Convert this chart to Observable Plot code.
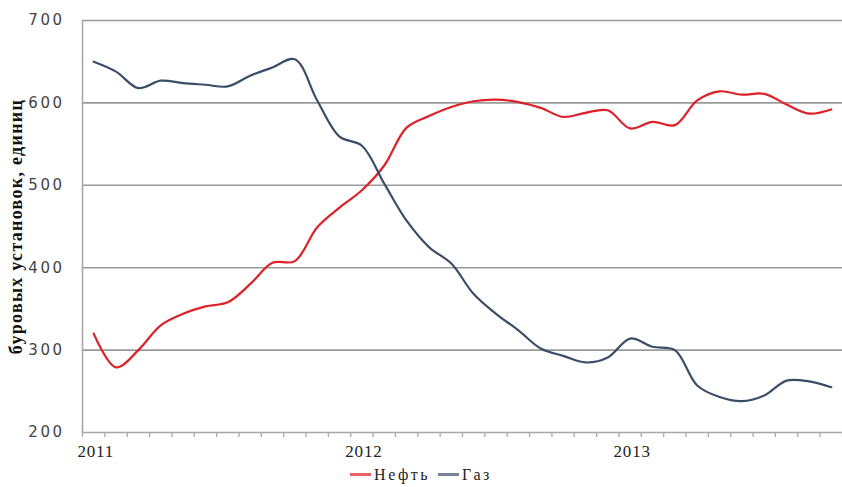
<!DOCTYPE html>
<html>
<head>
<meta charset="utf-8">
<script src="https://cdn.jsdelivr.net/npm/d3@7"></script>
<script src="https://cdn.jsdelivr.net/npm/@observablehq/plot@0.6"></script>
<style>
  html, body { margin: 0; padding: 0; background: #fff; }
  #chart { width: 842px; }
  #chart g[aria-label="x-axis tick label"] {
    font-family: "Liberation Serif", "Times New Roman", serif; font-size: 17px; letter-spacing: 0.8px;
  }
  #chart g[aria-label="y-axis tick label"] {
    font-family: "DejaVu Sans", Verdana, sans-serif; font-size: 15px; letter-spacing: 2.5px;
  }
  #chart g.ytitle text {
    font-family: "Liberation Serif", "Times New Roman", serif; font-size: 18px;
    font-weight: bold; letter-spacing: 1.3px;
  }
  .legend {
    width: 842px; height: 25px; display: flex; justify-content: center; align-items: center;
    font-family: "Liberation Serif", "Times New Roman", serif; font-size: 16px; color: #222;
    letter-spacing: 2.5px;
  }
  .legend .item { display: flex; align-items: center; margin: 0 4px; }
  .legend .sw { display: inline-block; width: 21px; height: 3px; margin-right: 3px; }
</style>
</head>
<body>
<div id="chart"></div>
<script>
// Monthly rig counts, Jan 2011 .. Oct 2013 (month index 0..33)
const months = d3.range(34);
const oil = [320, 279, 300, 330, 344, 353, 358, 380, 406, 408, 449, 473,
             494, 524, 570, 584, 595, 602, 604, 601, 594, 583, 588, 591,
             569, 577, 573, 603, 614, 610, 611, 598, 587, 592];
const gas = [650, 638, 618, 627, 624, 622, 620, 633, 643, 653, 603, 559,
             548, 502, 457, 425, 405, 368, 344, 324, 302, 293, 285, 291,
             314, 304, 300, 257, 243, 238, 245, 263, 262, 255];
const seriesNames = ["Нефть", "Газ"];
const seriesColors = ["#dc2129", "#3b4e68"];
const yearTicks = [0, 12, 24];
const yearLabels = ["2011", "2012", "2013"];
const yTicks = [200, 300, 400, 500, 600, 700];
const yTitle = "буровых установок, единиц";

const rows = [
  ...months.map((m, i) => ({month: m, value: oil[i], series: seriesNames[0]})),
  ...months.map((m, i) => ({month: m, value: gas[i], series: seriesNames[1]}))
];
const monthEdges = d3.range(-0.5, 34, 1);

const chart = Plot.plot({
  width: 842,
  height: 462,
  marginLeft: 82,
  marginRight: 0,
  marginTop: 20,
  marginBottom: 30,
  x: {domain: [-0.5, 33.5]},
  y: {domain: [200, 700]},
  color: {domain: seriesNames, range: seriesColors},
  marks: [
    Plot.gridY(yTicks.slice(1), {stroke: "#9a9a9a", strokeOpacity: 1, strokeWidth: 1.6}),
    Plot.ruleY([200], {stroke: "#a8a8a8", strokeWidth: 1.6}),
    Plot.ruleX([-0.5], {stroke: "#a8a8a8", strokeWidth: 1.6}),
    Plot.axisY(yTicks, {tickSize: 0, tickPadding: 18, label: null, fill: "#444"}),
    Plot.axisX(monthEdges, {
      tickSize: 5, tickFormat: () => "", label: null, stroke: "#a8a8a8", strokeWidth: 1.3
    }),
    Plot.axisX(yearTicks, {
      tickSize: 0, tickPadding: 12, label: null, dx: 2,
      tickFormat: (d) => yearLabels[yearTicks.indexOf(d)], fill: "#222"
    }),
    Plot.text([yTitle], {
      frameAnchor: "left", rotate: -90, dx: -66, textAnchor: "middle", text: (d) => d,
      fill: "#111", className: "ytitle"
    }),
    Plot.line(rows, {
      x: "month", y: "value", z: "series", stroke: "series",
      curve: "catmull-rom", strokeWidth: 2.2
    })
  ]
});
document.getElementById("chart").appendChild(chart);

// legend below the plot
const legend = document.createElement("div");
legend.className = "legend";
seriesNames.forEach((name, i) => {
  const item = document.createElement("span");
  item.className = "item";
  const sw = document.createElement("span");
  sw.className = "sw";
  sw.style.background = seriesColors[i];
  sw.style.opacity = 0.7;
  item.appendChild(sw);
  item.appendChild(document.createTextNode(name));
  legend.appendChild(item);
});
document.body.appendChild(legend);
</script>
</body>
</html>
